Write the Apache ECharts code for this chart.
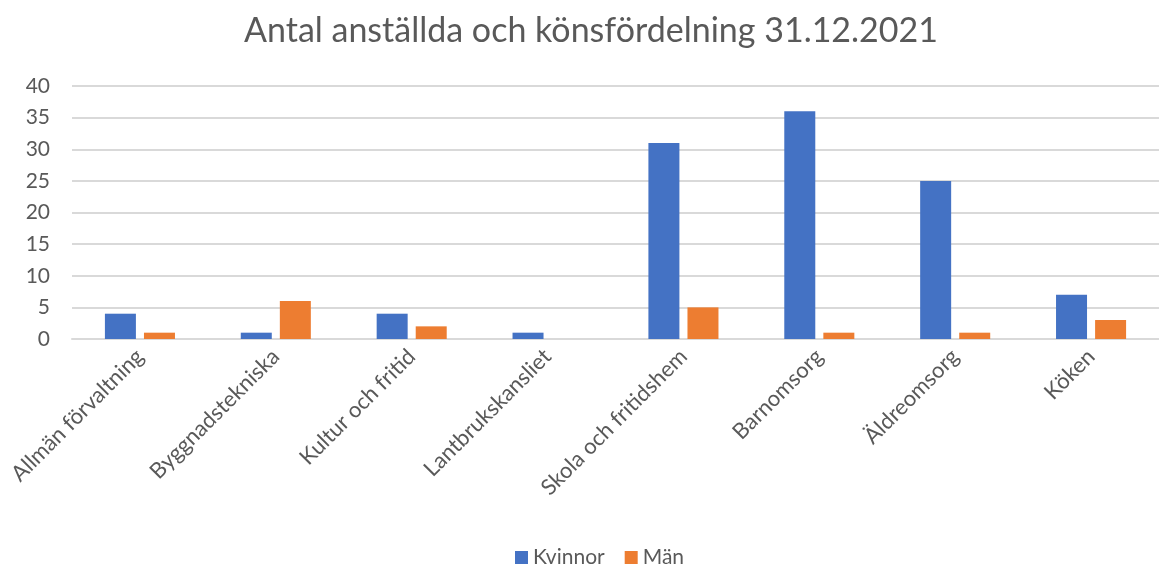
<!DOCTYPE html>
<html><head><meta charset="utf-8">
<script src="https://cdn.jsdelivr.net/npm/echarts@6/dist/echarts.min.js"></script>
<style>html,body{margin:0;padding:0;background:#fff}#c{width:1159px;height:565px}</style>
</head><body><div id="c"></div>
<script>
const titleText = 'Antal anställda och könsfördelning 31.12.2021';
const categories = ['Allmän förvaltning','Byggnadstekniska','Kultur och fritid','Lantbrukskansliet','Skola och fritidshem','Barnomsorg','Äldreomsorg','Köken'];
const kvinnor = [4,1,4,1,31,36,25,7];
const man = [1,6,2,0,5,1,1,3];
const seriesNames = ['Kvinnor','Män'];
const yTicks = {min:0, max:40, interval:5};

const font = 'Lato, "Noto Sans", sans-serif';
const chart = echarts.init(document.getElementById('c'));
chart.setOption({
  animation:false,
  title:{text:titleText,left:586,top:9,textAlign:'center',textStyle:{fontFamily:font,fontSize:34,fontWeight:'normal',color:'#595959'}},
  legend:{data:seriesNames,left:510,top:542,itemWidth:13,itemHeight:13,itemGap:20,icon:'rect',textStyle:{fontFamily:font,fontSize:21,color:'#595959'}},
  grid:{left:72,top:86,width:1100,height:253,containLabel:false},
  xAxis:{type:'category',data:categories,axisTick:{show:false},axisLine:{lineStyle:{color:'#d9d9d9',width:2}},
    axisLabel:{rotate:45,interval:0,margin:14,fontFamily:font,fontSize:22,color:'#595959'}},
  yAxis:{type:'value',min:yTicks.min,max:yTicks.max,interval:yTicks.interval,axisLine:{show:false},axisTick:{show:false},
    splitLine:{lineStyle:{color:'#d9d9d9',width:2}},axisLabel:{margin:22,fontFamily:font,fontSize:21,color:'#595959'}},
  series:[
    {name:seriesNames[0],type:'bar',data:kvinnor,itemStyle:{color:'#4472C4'},barWidth:31,barGap:'26%'},
    {name:seriesNames[1],type:'bar',data:man,itemStyle:{color:'#ED7D31'},barWidth:31,barGap:'26%'}
  ]
});
</script></body></html>
